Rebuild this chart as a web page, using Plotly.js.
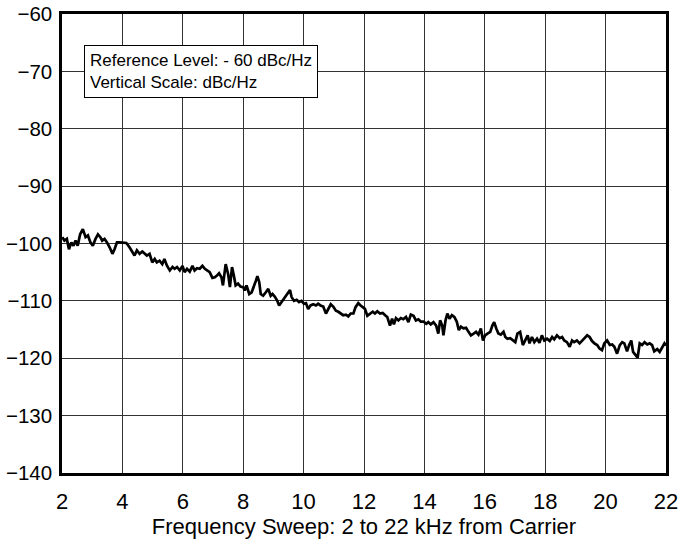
<!DOCTYPE html>
<html>
<head>
<meta charset="utf-8">
<script src="https://cdn.plot.ly/plotly-3.0.1.min.js"></script>
<style>html,body{margin:0;padding:0;background:#fff;}#chart{width:680px;height:544px;}</style>
</head>
<body>
<div id="chart"></div>
<script>
const freqKHz = [
2.01,2.08,2.16,2.23,2.31,2.38,2.45,2.52,2.60,2.69,2.78,2.86,2.94,3.02,3.11,3.19,3.27,3.33,3.41,3.49,
3.58,3.67,3.74,3.82,3.91,4.02,4.13,4.24,4.33,4.40,4.48,4.57,4.66,4.74,4.81,4.90,4.99,5.07,5.14,5.23,
5.32,5.39,5.48,5.57,5.66,5.73,5.81,5.90,5.99,6.06,6.14,6.23,6.32,6.39,6.47,6.56,6.65,6.73,6.80,6.89,6.98,
7.06,7.13,7.20,7.28,7.33,7.42,7.50,7.56,7.63,7.69,7.75,7.83,7.91,8.00,8.05,8.11,8.20,8.28,8.35,8.42,
8.47,8.53,8.58,8.66,8.75,8.83,8.91,8.97,9.05,9.12,9.19,9.27,9.35,9.41,9.49,9.55,9.60,9.68,9.77,9.85,
9.93,10.01,10.08,10.15,10.23,10.32,10.41,10.48,10.56,10.65,10.74,10.82,10.90,10.98,11.07,11.15,11.23,11.31,11.40,11.48,
11.56,11.65,11.72,11.81,11.89,11.98,
12.03,12.11,12.20,12.29,12.36,12.44,12.53,12.62,12.70,12.77,12.86,12.93,12.99,13.06,13.14,13.22,13.30,13.39,13.47,13.55,
13.64,13.72,13.80,13.88,13.97,14.06,14.13,14.21,14.30,14.39,14.46,14.52,14.59,14.63,14.70,14.76,14.83,14.91,14.99,15.07,
15.14,15.21,15.29,15.38,15.46,15.54,15.63,15.71,15.79,15.87,15.94,16.01,16.09,16.18,16.25,16.31,16.38,16.45,16.53,16.62,
16.68,16.75,16.84,16.93,
17.01,17.08,17.17,17.26,17.34,17.42,17.48,17.56,17.64,17.73,17.81,17.89,17.97,18.06,18.15,18.23,18.30,18.39,18.48,18.56,
18.63,18.72,18.81,18.89,18.96,19.05,19.14,19.22,19.30,19.39,19.47,19.55,19.63,19.72,19.80,19.88,19.96,20.05,20.14,20.22,
20.29,20.38,20.47,20.55,20.62,20.71,20.78,20.85,20.91,20.99,21.06,21.13,21.21,21.29,21.38,21.46,21.54,21.61,21.71,21.79,
21.87,21.95,22.0
];
const noiseDbcHz = [
-98.9,-99.5,-99.2,-101.0,-99.8,-100.4,-99.5,-100.4,-98.4,-97.5,-98.9,-98.6,-99.8,-100.4,-99.2,-98.4,-98.9,-99.5,-99.2,-99.8,
-100.7,-101.8,-101.0,-99.8,-99.8,-99.8,-99.9,-100.7,-101.5,-102.1,-101.2,-101.8,-101.4,-101.8,-102.1,-101.8,-103.3,-102.7,-103.3,-103.0,
-103.6,-102.7,-103.9,-104.7,-104.1,-104.4,-104.1,-104.7,-103.9,-105.0,-104.4,-104.9,-103.9,-104.7,-104.3,-104.4,-103.9,-104.4,-104.7,-105.0,-106.0,
-105.9,-105.6,-105.2,-105.9,-107.3,-103.6,-105.3,-107.6,-104.1,-105.6,-107.3,-107.0,-107.5,-107.6,-108.2,-107.3,-108.8,-108.5,-107.3,-106.5,
-105.7,-106.7,-108.8,-109.1,-108.5,-107.9,-109.1,-108.8,-109.3,-109.9,-110.8,-110.2,-109.6,-109.3,-108.5,-108.1,-109.3,-110.0,-109.8,-110.2,
-110.0,-110.5,-110.4,-111.4,-110.8,-110.6,-110.8,-110.5,-110.8,-111.0,-112.2,-111.4,-110.6,-111.0,-111.7,-111.9,-112.2,-112.5,-112.4,-112.7,
-112.2,-112.2,-111.1,-110.4,-110.8,-111.1,
-111.4,-112.6,-112.2,-111.9,-112.2,-111.8,-112.2,-112.1,-112.5,-112.8,-114.3,-113.1,-114.1,-113.0,-113.4,-113.0,-113.2,-112.8,-113.7,-112.4,
-112.6,-113.4,-113.2,-113.6,-113.6,-114.0,-113.7,-114.1,-113.7,-114.3,-115.7,-113.4,-114.3,-116.0,-113.4,-112.2,-113.1,-112.5,-112.8,-113.6,
-115.1,-114.5,-114.8,-114.7,-115.4,-116.0,-115.7,-115.4,-115.9,-114.8,-116.9,-116.0,-115.7,-115.4,-114.3,-113.7,-114.8,-115.7,-115.9,-115.4,
-116.3,-116.6,-116.5,-116.9,
-117.2,-115.7,-115.4,-117.7,-116.9,-116.0,-117.4,-116.3,-117.2,-116.6,-117.3,-116.0,-116.9,-116.6,-117.0,-116.3,-116.7,-116.0,-116.5,-116.3,
-116.9,-117.2,-118.0,-116.9,-117.2,-116.9,-117.4,-116.9,-116.6,-116.0,-116.3,-117.0,-117.4,-117.7,-118.3,-118.6,-117.4,-116.9,-117.7,-117.6,
-118.0,-119.2,-117.7,-117.2,-117.4,-118.8,-117.7,-116.9,-118.9,-119.5,-119.9,-117.4,-117.7,-117.2,-117.6,-117.4,-117.7,-118.8,-118.4,-118.9,
-118.0,-117.4,-117.8
];
const xTicks = [2,4,6,8,10,12,14,16,18,20,22];
const yTicks = [-140,-130,-120,-110,-100,-90,-80,-70,-60];
const xTitle = "Frequency Sweep: 2 to 22 kHz from Carrier";
const boxText = "Reference Level: - 60 dBc/Hz<br>Vertical Scale: dBc/Hz";

const FONT = '"Liberation Sans", Arial, Helvetica, sans-serif';

const trace = {
  x: freqKHz, y: noiseDbcHz, type: 'scatter', mode: 'lines',
  line: {color: '#000', width: 2.7}, hoverinfo: 'skip', showlegend: false
};

const layout = {
  width: 680, height: 544,
  margin: {l: 62, r: 14, t: 14, b: 71, pad: 0},
  paper_bgcolor: '#fff', plot_bgcolor: '#fff',
  font: {family: FONT, color: '#000'},
  showlegend: false,
  xaxis: {
    range: [2, 22], tickvals: xTicks, ticktext: xTicks.map(String),
    showgrid: true, gridcolor: '#333', gridwidth: 1,
    showline: true, linecolor: '#000', linewidth: 2.7, mirror: true,
    ticks: '', zeroline: false, tickfont: {size: 22, family: FONT},
    ticklabelstandoff: 7,
    title: {text: xTitle, font: {size: 22, family: FONT}, standoff: 4}
  },
  yaxis: {
    range: [-140, -60], tickvals: yTicks, ticktext: yTicks.map(v => '\u2212' + Math.abs(v)),
    showgrid: true, gridcolor: '#333', gridwidth: 1,
    showline: true, linecolor: '#000', linewidth: 2.7, mirror: true,
    ticks: '', zeroline: false, tickfont: {size: 20.5, family: FONT},
    ticklabelstandoff: 3
  },
  annotations: [{
    xref: 'paper', yref: 'paper', x: 0.037, y: 0.933,
    xanchor: 'left', yanchor: 'top', align: 'left', showarrow: false,
    text: boxText, font: {size: 17, family: FONT, color: '#000'},
    bgcolor: '#fff', bordercolor: '#000', borderwidth: 1, borderpad: 5
  }]
};

Plotly.newPlot('chart', [trace], layout, {displayModeBar: false, staticPlot: true});
</script>
</body>
</html>
